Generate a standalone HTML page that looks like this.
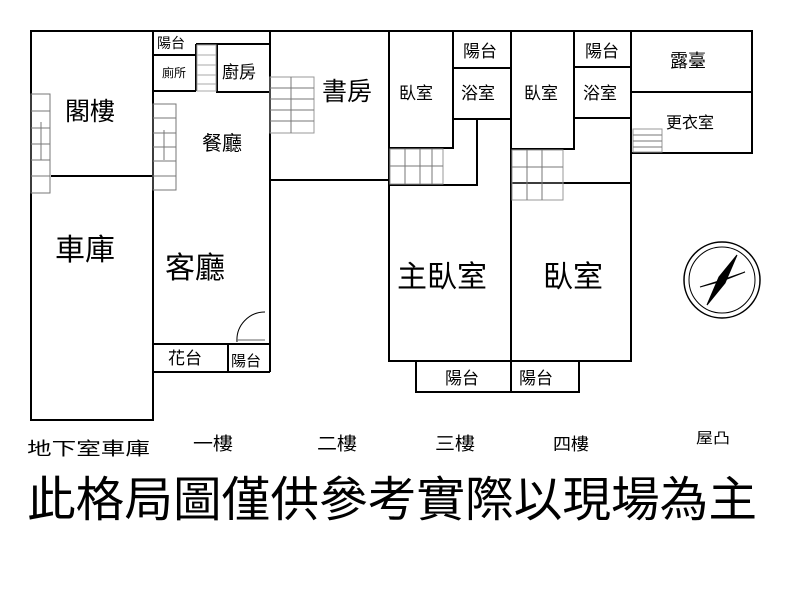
<!DOCTYPE html>
<html><head><meta charset="utf-8"><style>
html,body{margin:0;padding:0;background:#fff;}
svg{display:block;}
text{font-family:"Liberation Sans","Noto Sans CJK TC",sans-serif;fill:#000;}
</style></head><body>
<svg width="800" height="600" viewBox="0 0 800 600" xmlns="http://www.w3.org/2000/svg">
<g stroke="#000" stroke-width="2" fill="none">
<!-- B1 -->
<rect x="31" y="31" width="122" height="389"/>
<line x1="51" y1="176" x2="153" y2="176"/>
<!-- 1F -->
<polyline points="153,31 270,31 270,372"/>
<line x1="153" y1="55" x2="196" y2="55"/>
<line x1="153" y1="91" x2="196" y2="91"/>
<line x1="196" y1="44" x2="270" y2="44"/>
<line x1="196" y1="44" x2="196" y2="91"/>
<rect x="217" y="44" width="53" height="48"/>
<line x1="153" y1="344" x2="270" y2="344"/>
<line x1="153" y1="372" x2="270" y2="372"/>
<line x1="228" y1="344" x2="228" y2="372"/>
<!-- 2F -->
<polyline points="270,31 389,31 389,180 270,180"/>
<!-- 3F -->
<polyline points="389,31 511,31 511,361 389,361 389,180"/>
<rect x="389" y="31" width="64" height="117"/>
<rect x="453" y="31" width="58" height="37"/>
<rect x="453" y="68" width="58" height="51"/>
<polyline points="477,119 477,185 389,185"/>
<rect x="416" y="361" width="95" height="31"/>
<!-- 4F -->
<polyline points="511,31 631,31 631,361 511,361"/>
<rect x="511" y="31" width="63" height="118"/>
<rect x="574" y="31" width="57" height="36"/>
<rect x="574" y="67" width="57" height="51"/>
<line x1="511" y1="183" x2="631" y2="183"/>
<rect x="511" y="361" width="68" height="31"/>
<!-- roof -->
<polyline points="631,31 752,31 752,153 631,153"/>
<line x1="631" y1="92" x2="752" y2="92"/>
</g>
<!-- stairs -->
<g stroke="#777" stroke-width="1" fill="none">
<rect x="31" y="94" width="19" height="99"/>
<line x1="31" y1="111" x2="50" y2="111"/><line x1="31" y1="128" x2="50" y2="128"/><line x1="31" y1="144" x2="50" y2="144"/><line x1="31" y1="160" x2="50" y2="160"/><line x1="31" y1="176" x2="50" y2="176"/>
<line x1="41" y1="122" x2="41" y2="160"/>
<rect x="153" y="104" width="23" height="86"/>
<line x1="153" y1="118" x2="176" y2="118"/><line x1="153" y1="133" x2="176" y2="133"/><line x1="153" y1="147" x2="176" y2="147"/><line x1="153" y1="161" x2="176" y2="161"/><line x1="153" y1="176" x2="176" y2="176"/>
<line x1="164" y1="130" x2="164" y2="160"/>
<rect x="197" y="45" width="19" height="46" stroke="#aaa"/>
<line x1="197" y1="55" x2="216" y2="55" stroke="#aaa"/><line x1="197" y1="65" x2="216" y2="65" stroke="#aaa"/><line x1="197" y1="75" x2="216" y2="75" stroke="#aaa"/><line x1="197" y1="84" x2="216" y2="84" stroke="#aaa"/>
<rect x="270" y="77" width="44" height="56" stroke="#999"/>
<line x1="291" y1="77" x2="291" y2="133"/>
<line x1="270" y1="88" x2="314" y2="88"/><line x1="270" y1="99" x2="314" y2="99"/><line x1="270" y1="110" x2="314" y2="110"/><line x1="270" y1="121" x2="314" y2="121"/>
<rect x="390" y="149" width="53" height="35" stroke="#999"/>
<line x1="390" y1="166" x2="443" y2="166"/><line x1="405" y1="149" x2="405" y2="184"/><line x1="420" y1="149" x2="420" y2="184"/><line x1="432" y1="149" x2="432" y2="184"/>
<rect x="512" y="150" width="51" height="50" stroke="#999"/>
<line x1="512" y1="167" x2="563" y2="167"/><line x1="512" y1="183" x2="563" y2="183"/><line x1="527" y1="150" x2="527" y2="200"/><line x1="542" y1="150" x2="542" y2="200"/>
<rect x="633" y="129" width="29" height="23" stroke="#999"/>
<line x1="633" y1="135" x2="662" y2="135"/><line x1="633" y1="141" x2="662" y2="141"/><line x1="633" y1="147" x2="662" y2="147"/>
</g>
<!-- door -->
<path d="M237 342 A28 28 0 0 1 265 312" stroke="#000" stroke-width="1" fill="none"/>
<line x1="237" y1="340" x2="265" y2="340" stroke="#666" stroke-width="1"/>
<!-- compass -->
<g stroke="#000" fill="none">
<circle cx="722" cy="280" r="38" stroke-width="1.5"/>
<circle cx="722" cy="280" r="33" stroke-width="1"/>
<polygon points="737,255 725,283 707,305 719,277" fill="#000"/>
<polygon points="700,287 722,280 745,272 722,281" fill="#000" stroke-width="1"/>
</g>
<!-- labels -->
<text x="65" y="120" font-size="25">閣樓</text>
<text x="55" y="260" font-size="30">車庫</text>
<text x="157" y="48" font-size="14">陽台</text>
<text x="162" y="77" font-size="12">廁所</text>
<text x="222" y="78" font-size="17">廚房</text>
<text x="202" y="150" font-size="20">餐廳</text>
<text x="165" y="278" font-size="30">客廳</text>
<text x="168" y="364" font-size="17">花台</text>
<text x="231" y="366" font-size="15">陽台</text>
<text x="322" y="100" font-size="25">書房</text>
<text x="399" y="99" font-size="17">臥室</text>
<text x="463" y="57" font-size="17">陽台</text>
<text x="461" y="99" font-size="17">浴室</text>
<text x="397" y="287" font-size="30">主臥室</text>
<text x="445" y="384" font-size="17">陽台</text>
<text x="524" y="99" font-size="17">臥室</text>
<text x="585" y="57" font-size="17">陽台</text>
<text x="583" y="99" font-size="17">浴室</text>
<text x="543" y="287" font-size="30">臥室</text>
<text x="519" y="384" font-size="17">陽台</text>
<text x="670" y="67" font-size="18">露臺</text>
<text x="666" y="128" font-size="16">更衣室</text>
<text x="27" y="455" font-size="18" textLength="123" lengthAdjust="spacingAndGlyphs">地下室車庫</text>
<text x="193" y="450" font-size="18" textLength="40" lengthAdjust="spacingAndGlyphs">一樓</text>
<text x="317" y="450" font-size="18" textLength="40" lengthAdjust="spacingAndGlyphs">二樓</text>
<text x="435" y="450" font-size="18" textLength="40" lengthAdjust="spacingAndGlyphs">三樓</text>
<text x="553" y="450" font-size="17" textLength="36" lengthAdjust="spacingAndGlyphs">四樓</text>
<text x="696" y="443" font-size="15" textLength="34" lengthAdjust="spacingAndGlyphs">屋凸</text>
<text x="27" y="516" font-size="48" textLength="730" lengthAdjust="spacingAndGlyphs">此格局圖僅供參考實際以現場為主</text>
</svg>
</body></html>
